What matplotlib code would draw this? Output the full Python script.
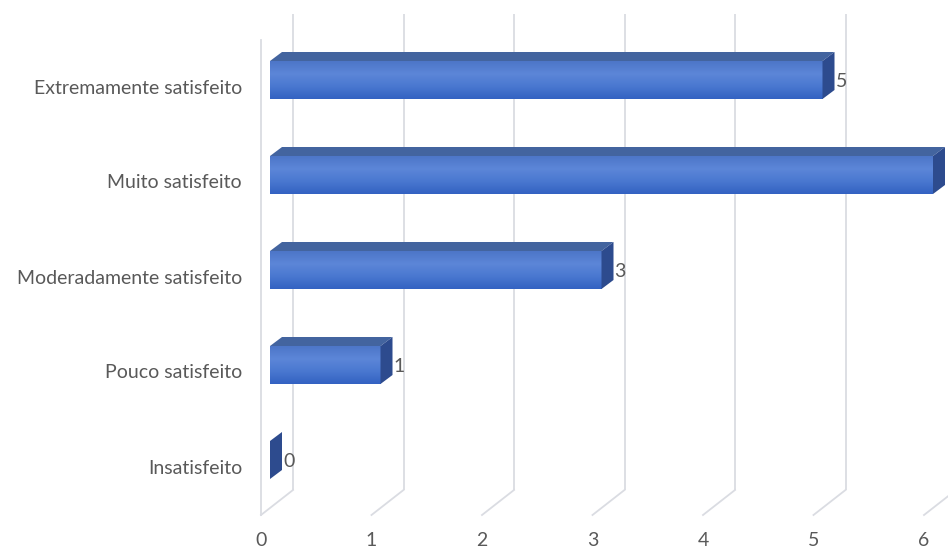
import numpy as np
import matplotlib
matplotlib.use("Agg")
import matplotlib.pyplot as plt
from matplotlib.patches import Polygon
from matplotlib.colors import LinearSegmentedColormap

categories = ["Extremamente satisfeito", "Muito satisfeito", "Moderadamente satisfeito",
              "Pouco satisfeito", "Insatisfeito"]
values = [5, 6, 3, 1, 0]
xticks = [0, 1, 2, 3, 4, 5, 6]

TXT = "#595959"
GRID = "#dadce2"
FONT = "Lato"
FS = 14

fig = plt.figure(figsize=(9.48, 5.51), dpi=100)
ax = fig.add_axes([0, 0, 1, 1])
ax.axis("off")
ux, uy = 110.5, 95.0
xmax = (948 - 261) / ux
ax.set_xlim(-261 / ux, xmax)
ax.set_ylim((551 - 80) / uy, -80 / uy)

# wall / floor geometry (style constants)
gdx, gdy = 32 / ux, -25 / uy
y_back_top, y_front_floor = (14 - 80) / uy, (515 - 80) / uy
y_left_top = (40 - 80) / uy
for k in xticks:
    ax.plot([k + gdx, k + gdx], [y_back_top, y_front_floor + gdy], color=GRID, lw=1.3, zorder=1,
            solid_capstyle="butt")
    ax.plot([k + gdx, k], [y_front_floor + gdy, y_front_floor], color=GRID, lw=1.3, zorder=1)
ax.plot([0, 0], [y_left_top, y_front_floor], color=GRID, lw=1.3, zorder=1)

# bars
x0 = 9 / ux
hh = 19 / uy
bdx, bdy = 12 / ux, -9 / uy
cmap = LinearSegmentedColormap.from_list("g", ["#4d76c8", "#5c86d8", "#4a78d0", "#3362c2"])
grad = np.linspace(0, 1, 64).reshape(-1, 1)
for i, v in enumerate(values):
    xl, xr = x0, x0 + v
    yt, yb = i - hh, i + hh
    if v > 0:
        front = Polygon([(xl, yt), (xr, yt), (xr, yb), (xl, yb)], closed=True,
                        facecolor="none", edgecolor="none", zorder=3)
        ax.add_patch(front)
        im = ax.imshow(grad, cmap=cmap, aspect="auto", extent=(xl, xr, yb, yt), zorder=3,
                       interpolation="bilinear")
        im.set_clip_path(front)
        top = Polygon([(xl, yt), (xr, yt), (xr + bdx, yt + bdy), (xl + bdx, yt + bdy)],
                      closed=True, facecolor="#43649f", edgecolor="none", zorder=3)
        ax.add_patch(top)
    side = Polygon([(xr, yt), (xr + bdx, yt + bdy), (xr + bdx, yb + bdy), (xr, yb)],
                   closed=True, facecolor="#2d4b8e", edgecolor="none", zorder=4)
    ax.add_patch(side)
    lx = xr + bdx + 0.01
    if lx < xmax - 0.1:  # the reference crops labels that fall past the right edge
        ax.text(lx, i + 0.02, str(v), ha="left", va="center", color=TXT,
                fontsize=FS, family=FONT, zorder=5)
    ax.text(-19 / ux, i + 8 / uy, categories[i], ha="right", va="center", color=TXT,
            fontsize=FS, family=FONT)

for k in xticks:
    ax.text(k, (541 - 80) / uy, str(k), ha="center", va="center", color=TXT, fontsize=FS,
            family=FONT)

fig.savefig("out.png", dpi=100)
